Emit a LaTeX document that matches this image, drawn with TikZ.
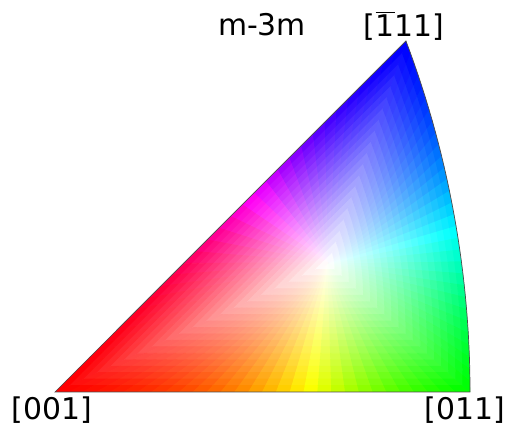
\documentclass[tikz,border=0pt]{standalone}
\usepackage{fontspec}
\setmainfont{DejaVu Sans}
\usepackage{tikz}
\usetikzlibrary{calc}

% point on the rim of the key: edge #1 (0 bottom, 1 arc, 2 slope), fraction #2 -> \ipfx, \ipfy
\newcommand{\ipfpoint}[2]{%
  \ifcase#1
    \pgfmathsetmacro\ipfx{55+415*#2}\pgfmathsetmacro\ipfy{36}%
  \or
    \pgfmathsetmacro\ipfx{-524.5+994.5*cos(20.667*#2)}\pgfmathsetmacro\ipfy{36+994.5*sin(20.667*#2)}%
  \or
    \pgfmathsetmacro\ipfx{406-351*#2}\pgfmathsetmacro\ipfy{387-351*#2}%
  \fi}
% angle of the current rim point seen from the white point
\newcommand{\ipfangle}[2]{%
  \pgfmathsetmacro#2{atan2(\ipfy-165,\ipfx-328)}%
  \pgfmathsetmacro#2{ifthenelse(and(#1==2,#2<0),#2+360,#2)}}

\begin{document}
\begin{tikzpicture}[
    x=0.02cm, y=0.02cm,
    pole/.style={font=\fontsize{17}{20}\selectfont, inner sep=0pt, anchor=base},
    rim/.style={draw=black!70, line width=0.4pt},
    cell/.style={fill=cellc, draw=cellc, line width=0.5pt},
]
\useasboundingbox (0,0) rectangle (509,428);

% corners and white point
\coordinate (p001) at (55,36);
\coordinate (p011) at (470,36);
\coordinate (p111) at (406,387);
\coordinate (wp) at (328,165);

% colour key, drawn in rings round the white point
\begin{scope}
\clip (p001) -- (p011) arc[start angle=0, end angle=20.667, radius=994.5] -- cycle;
\foreach \k in {0,1,2} {
  \ipfpoint{\k}{0}\ipfangle{\k}{\anga}
  \ipfpoint{\k}{1}\ipfangle{\k}{\angb}
  \foreach \i in {0,...,29} {
    \ipfpoint{\k}{\i/30}\let\ax\ipfx\let\ay\ipfy
    \ipfpoint{\k}{(\i+1)/30}\let\bx\ipfx\let\by\ipfy
    \ipfpoint{\k}{(\i+0.5)/30}\ipfangle{\k}{\angm}
    \pgfmathsetmacro\hue{120*\k+120*(\angm-\anga)/(\angb-\anga)}
    \foreach \j in {1,...,20} {
      \pgfmathsetmacro\sa{(\j-1)/20}
      \pgfmathsetmacro\sb{ifthenelse(\j==20,1.05,\j/20)}
      \pgfmathsetmacro\sat{min(1,((\j-0.5)/19.5)^1.05)}
      \definecolor{cellhsb}{Hsb}{\hue,\sat,1}
      \colorlet{cellc}[rgb]{cellhsb}
      \path[cell] ($(wp)!\sa!(\ax,\ay)$) -- ($(wp)!\sb!(\ax,\ay)$)
        -- ($(wp)!\sb!(\bx,\by)$) -- ($(wp)!\sa!(\bx,\by)$) -- cycle;
    }
  }
}
\end{scope}

% outline
\draw[rim] (p001) -- (p011) arc[start angle=0, end angle=20.667, radius=994.5] -- cycle;

% labels
\node[pole] (title) at (262,392) {m-3m};
\node[pole] (lbl111) at (404,391) {[\ensuremath{\overline{\hbox{1}}}11]};
\node[pole] (lbl001) at (52,8) {[001]};
\node[pole] (lbl011) at (465,8) {[011]};

\end{tikzpicture}
\end{document}
